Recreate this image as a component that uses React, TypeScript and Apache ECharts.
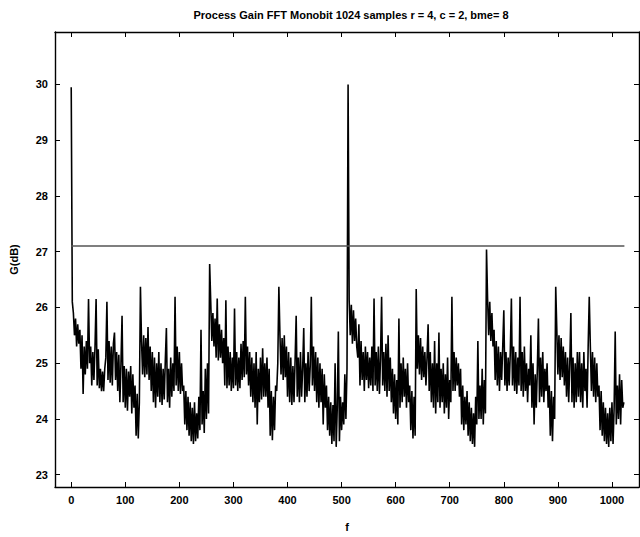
import React, { useEffect, useRef } from "react";
import * as echarts from "echarts";

const TITLE = "Process Gain FFT Monobit 1024 samples r = 4, c = 2, bme= 8";
const Y_NAME = "G(dB)";
const X_NAME = "f";

const X_TICKS = [0, 100, 200, 300, 400, 500, 600, 700, 800, 900, 1000];
const Y_TICKS = [23, 24, 25, 26, 27, 28, 29, 30];

// f step between stored samples
const F_STEP = 2;

// f = 0 .. 254
const gainQ0 = [
  29.95, 26.1, 25.9, 25.5, 25.8, 25.3, 25.7, 25.35, 25.6, 24.9, 25.5, 24.45, 25.3, 24.8, 25.4, 24.9,
  26.15, 25.0, 25.3, 24.6, 25.2, 24.7, 25.3, 26.15, 24.6, 25.25, 24.55, 24.9, 24.5, 24.85, 24.5, 24.9,
  25.1, 26.1, 24.7, 25.4, 24.65, 25.3, 24.6, 25.35, 25.55, 24.7, 25.2, 24.5, 25.15, 24.3, 25.0, 25.85,
  24.3, 24.95, 24.2, 24.9, 24.15, 24.85, 24.4, 24.95, 24.1, 24.8, 24.2, 24.6, 23.7, 24.45, 23.65, 24.3,
  26.37, 25.4, 24.8, 25.5, 24.75, 25.45, 24.8, 25.65, 24.7, 25.3, 24.5, 25.2, 24.3, 25.1, 24.2, 25.0,
  24.4, 25.2, 24.3, 25.0, 24.25, 24.9, 24.35, 25.05, 25.63, 24.3, 24.9, 24.2, 25.1, 24.4, 25.0, 24.5,
  26.19, 24.6, 25.3, 24.5, 25.2, 24.45, 25.0, 24.5, 24.6, 23.9, 24.5, 23.8, 24.4, 23.7, 24.3, 23.6,
  24.2, 23.55, 24.3, 23.6, 24.1, 23.65, 24.4, 23.8, 25.6, 23.9, 24.5, 23.75, 24.9, 24.0, 25.0, 24.1,
];
// f = 256 .. 510
const gainQ1 = [
  26.78, 26.1, 25.4, 25.9, 25.3, 25.8, 25.1, 26.16, 25.05, 25.7, 25.1, 25.6, 25.0, 25.45, 24.6, 26.13,
  24.55, 25.3, 24.6, 25.2, 24.5, 25.1, 24.55, 25.98, 24.6, 25.2, 24.5, 25.1, 24.55, 25.35, 24.7, 25.4,
  24.75, 26.19, 24.8, 25.3, 24.6, 25.2, 24.4, 25.1, 24.3, 25.0, 24.2, 25.2, 23.9, 24.9, 24.3, 25.1,
  24.35, 25.27, 24.4, 25.0, 24.4, 25.1, 24.2, 24.9, 23.7, 24.5, 23.62, 24.4, 23.8, 24.6, 24.5, 25.0,
  26.37, 25.5, 24.8, 25.45, 24.7, 25.5, 24.75, 25.3, 24.4, 25.2, 24.3, 25.1, 24.25, 24.95, 24.3, 25.05,
  25.85, 24.4, 25.1, 24.3, 25.2, 24.4, 24.9, 25.63, 24.3, 25.0, 24.4, 25.2, 24.5, 24.95, 26.19, 24.6,
  25.3, 24.5, 25.2, 24.3, 25.1, 24.2, 25.0, 24.3, 24.9, 23.9, 24.8, 24.2, 24.6, 23.8, 24.4, 23.7,
  24.3, 23.55, 24.25, 23.6, 25.0, 23.5, 24.2, 25.57, 23.6, 24.4, 23.8, 24.3, 23.9, 24.8, 24.0, 24.9,
];
// f = 512 .. 766
const gainQ2 = [
  30.0, 26.13, 25.5, 26.05, 25.35, 25.95, 25.4, 25.8, 25.3, 25.1, 25.7, 24.6, 25.4, 24.7, 25.2, 24.5,
  25.3, 24.7, 25.2, 24.55, 25.1, 24.6, 25.3, 24.5, 26.16, 24.6, 25.2, 24.5, 25.3, 24.45, 25.1, 26.19,
  24.6, 25.2, 24.5, 25.35, 24.4, 25.5, 24.5, 25.1, 24.3, 24.9, 24.1, 24.8, 24.0, 24.7, 23.9, 25.8,
  24.2, 25.0, 24.3, 25.1, 24.4, 24.9, 24.2, 25.0, 24.3, 24.6, 23.8, 24.5, 23.65, 24.4, 23.7, 26.33,
  24.9, 25.5, 24.8, 25.45, 24.7, 25.3, 24.75, 25.2, 24.6, 25.1, 25.7, 24.5, 25.2, 24.3, 25.0, 24.2,
  25.4, 24.1, 25.0, 24.3, 25.55, 24.2, 24.9, 24.3, 25.0, 24.1, 24.8, 24.2, 25.1, 24.0, 24.7, 24.3,
  26.19, 24.5, 25.2, 24.5, 25.1, 24.6, 25.0, 24.4, 24.9, 23.9, 24.6, 23.8, 24.4, 23.9, 24.5, 23.7,
  24.3, 23.6, 24.2, 23.55, 24.1, 23.5, 24.4, 23.9, 25.4, 24.0, 24.6, 24.0, 24.9, 23.9, 24.7, 24.1,
];
// f = 768 .. 1022
const gainQ3 = [
  27.04, 26.15, 25.5, 26.1, 25.4, 25.9, 25.3, 25.6, 24.7, 25.4, 24.6, 25.3, 24.5, 25.2, 24.7, 25.3,
  25.95, 24.6, 25.2, 24.5, 25.1, 24.6, 25.2, 26.16, 24.6, 25.3, 24.5, 25.2, 24.45, 25.1, 24.6, 26.19,
  24.5, 25.2, 24.4, 25.3, 24.5, 25.0, 24.3, 24.9, 24.6, 25.5, 24.2, 25.0, 23.9, 24.8, 24.2, 24.9,
  25.8, 24.3, 25.1, 24.4, 25.2, 24.3, 24.9, 24.5, 25.0, 24.2, 24.6, 23.7, 24.5, 23.6, 24.4, 24.0,
  26.37, 25.6, 24.8, 25.5, 24.7, 25.45, 24.75, 25.3, 24.6, 25.2, 24.4, 25.1, 24.3, 25.0, 25.9, 24.3,
  25.1, 24.2, 25.0, 24.3, 25.2, 24.4, 25.2, 24.3, 25.0, 24.2, 25.2, 24.5, 24.9, 24.2, 25.3, 26.19,
  25.3, 24.5, 25.2, 24.4, 25.1, 24.3, 25.0, 24.4, 24.6, 23.8, 24.5, 23.7, 24.3, 23.6, 24.2, 23.55,
  24.1, 23.5, 24.2, 23.6, 24.3, 23.55, 24.2, 25.57, 23.9, 24.6, 24.0, 24.8, 23.9, 24.7, 24.2, 24.3,
];

const THRESHOLD = 27.1;
const THRESHOLD_F = [0, 1023];

export default function App() {
  const ref = useRef<HTMLDivElement>(null);
  useEffect(() => {
    if (!ref.current) return;
    const chart = echarts.init(ref.current, null, { renderer: "svg" });
    const gain = [...gainQ0, ...gainQ1, ...gainQ2, ...gainQ3];
    const gainData = gain.map((v, i) => [i * F_STEP, v]);
    const thrData = THRESHOLD_F.map((f) => [f, THRESHOLD]);
    const font = "Liberation Sans, Arial, sans-serif";
    const axisLine = { show: true, onZero: false, lineStyle: { color: "#000", width: 1.4 } };
    const tick = (vals: number[]) => ({
      show: true,
      inside: true,
      length: 5,
      customValues: vals,
      lineStyle: { color: "#000", width: 1 },
    });
    const xBase = {
      type: "value" as const,
      min: -30,
      max: 1050,
      axisLine,
      splitLine: { show: false },
    };
    const yBase = {
      type: "value" as const,
      min: 22.78,
      max: 30.94,
      axisLine,
      splitLine: { show: false },
    };
    const labelStyle = {
      show: true,
      margin: 7,
      fontFamily: font,
      fontSize: 11,
      fontWeight: "bold" as const,
      color: "#000",
      formatter: (v: number) => String(v),
    };
    chart.setOption({
      animation: false,
      backgroundColor: "#fff",
      grid: { left: 54, right: 1, top: 32, bottom: 42, containLabel: false },
      title: {
        text: TITLE,
        left: 346,
        textAlign: "center",
        top: 4,
        textStyle: { fontFamily: font, fontSize: 11, fontWeight: "bold", color: "#000" },
      },
      xAxis: [
        {
          ...xBase,
          position: "bottom",
          name: X_NAME,
          nameLocation: "middle",
          nameGap: 34,
          nameTextStyle: { fontFamily: font, fontSize: 11, fontWeight: "bold", color: "#000" },
          axisTick: tick(X_TICKS),
          axisLabel: { ...labelStyle, customValues: X_TICKS },
        },
        {
          ...xBase,
          position: "top",
          axisTick: tick(X_TICKS),
          axisLabel: { show: false },
        },
      ],
      yAxis: [
        {
          ...yBase,
          position: "left",
          name: Y_NAME,
          nameLocation: "middle",
          nameGap: 36,
          nameRotate: 90,
          nameTextStyle: { fontFamily: font, fontSize: 11, fontWeight: "bold", color: "#000" },
          axisTick: tick(Y_TICKS),
          axisLabel: { ...labelStyle, customValues: Y_TICKS },
        },
        {
          ...yBase,
          position: "right",
          axisTick: tick(Y_TICKS),
          axisLabel: { show: false },
        },
      ],
      series: [
        {
          type: "line",
          data: gainData,
          xAxisIndex: 0,
          yAxisIndex: 0,
          showSymbol: false,
          symbol: "none",
          lineStyle: { color: "#000", width: 1.6 },
          clip: true,
        },
        {
          type: "line",
          data: thrData,
          xAxisIndex: 0,
          yAxisIndex: 0,
          showSymbol: false,
          symbol: "none",
          lineStyle: { color: "#555", width: 1.5 },
          clip: true,
        },
      ],
    });
    return () => chart.dispose();
  }, []);
  return (
    <div
      ref={ref}
      style={{ position: "absolute", left: 0, top: 0, width: 640, height: 537, background: "#fff" }}
    />
  );
}
